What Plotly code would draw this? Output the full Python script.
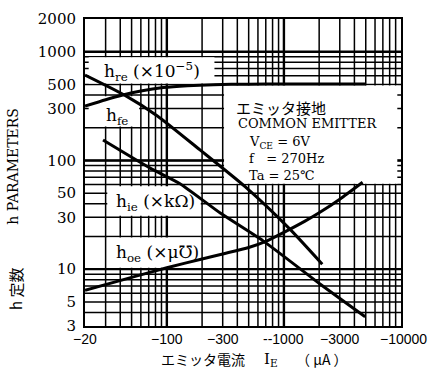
import math
import plotly.graph_objects as go

# ---- data (|I_E| in uA, parameter values) ----
ie_hre = [20, 30, 42, 60, 93, 150, 250, 500, 1000, 2000, 5000]
hre = [316, 362, 400, 435, 468, 487, 498, 503, 505, 505, 505]

ie_hfe = [20, 44, 82.5, 192, 466, 1130, 2126]
hfe = [611, 397, 258, 125, 57.4, 23.2, 11.1]

ie_hie = [28.5, 72, 129.5, 284, 664, 2020, 4945]
hie = [154, 85, 61.1, 33.0, 18.2, 7.35, 3.65]

ie_hoe = [20, 50, 100, 200, 300, 500, 700, 1000, 1500, 2000, 3000, 4700]
hoe = [6.4, 8.4, 10.3, 12.4, 13.8, 15.8, 18.0, 21.8, 27.5, 33.0, 44.0, 63.0]

x_ticks = [20, 100, 300, 1000, 3000, 10000]
x_ticktext = ["−20", "−100", "−300", "--1000", "−3000", "−10000"]
y_ticks = [3, 5, 10, 30, 50, 100, 300, 500, 1000, 2000]
y_ticktext = [str(v) for v in y_ticks]

x_grid = [m * d for d in (10, 100, 1000) for m in range(1, 10) if 20 < m * d < 10000]
y_grid = [m * d for d in (1, 10, 100, 1000) for m in range(1, 10) if 3 < m * d < 2000]
x_major_lines = [100, 1000]
y_major_lines = [10, 100, 1000]

X_MIN, X_MAX = 20, 10000
Y_MIN, Y_MAX = 3, 2000

SERIF = "DejaVu Serif"
CJK = "Noto Sans CJK JP"

fig = go.Figure()
for xs, ys in [(ie_hre, hre), (ie_hfe, hfe), (ie_hie, hie), (ie_hoe, hoe)]:
    fig.add_trace(go.Scatter(x=xs, y=ys, mode="lines",
                             line=dict(color="black", width=3, shape="spline", smoothing=0.6),
                             showlegend=False, hoverinfo="skip"))

shapes = []
for v in x_grid:
    shapes.append(dict(type="line", xref="x", yref="paper", x0=v, x1=v, y0=0, y1=1,
                       line=dict(color="black", width=1.5), layer="between"))
for v in y_grid:
    shapes.append(dict(type="line", xref="paper", yref="y", x0=0, x1=1, y0=v, y1=v,
                       line=dict(color="black", width=1.5), layer="between"))
for v in x_major_lines:
    shapes.append(dict(type="line", xref="x", yref="paper", x0=v, x1=v, y0=0, y1=1,
                       line=dict(color="black", width=2.4), layer="between"))
for v in y_major_lines:
    shapes.append(dict(type="line", xref="paper", yref="y", x0=0, x1=1, y0=v, y1=v,
                       line=dict(color="black", width=2.4), layer="between"))
# white label boxes (areas where the printed grid is absent)
masks = [
    (21.5, 255, 510, 890),     # h_re label
    (21.5, 58, 205, 390),      # h_fe label
    (31, 195, 31, 58),         # h_ie label
    (31, 195, 10.3, 19.5),     # h_oe label
    (308, 9300, 61, 490),      # conditions box
]
for x0, x1, y0, y1 in masks:
    shapes.append(dict(type="rect", xref="x", yref="y", x0=x0, x1=x1, y0=y0, y1=y1,
                       fillcolor="white", line=dict(width=0), layer="between"))


def px(xp):
    return (xp - 85) / 316.0


def py(yp):
    return (326 - yp) / 316.0


ann = []
def txt(t, xp, yp, size=15, font=SERIF, anchor="left", angle=0):
    ann.append(dict(text=t, xref="paper", yref="paper", x=px(xp), y=py(yp),
                    xanchor=anchor, yanchor="middle", showarrow=False, textangle=angle,
                    font=dict(family=font, size=size, color="black")))

txt("h<sub>re</sub> (×10<sup>−5</sup>)", 102, 64, 17)
txt("h<sub>fe</sub>", 104, 110, 17)
txt("h<sub>ie</sub> (×kΩ)", 114, 199, 17)
txt("h<sub>oe</sub> (×μ℧)", 114, 251, 17)

txt("エミッタ接地", 234, 101, 15, CJK)
txt("COMMON EMITTER", 236, 118, 13)
txt("V<sub>CE</sub> = 6V", 247, 137, 13)
txt("f   = 270Hz", 247, 154, 13)
txt("Ta = 25℃", 247, 171, 13)

txt("h PARAMETERS", 13, 162, 14, SERIF, "center", -90)
txt("h 定数", 15, 288, 15, CJK, "center", -90)
txt("エミッタ電流", 159, 360, 14, CJK, "left")
txt("I<sub>E</sub>", 262, 360, 15, SERIF, "left")
txt("（ μA ）", 294, 360, 14, CJK, "left")

# x tick labels placed at the axis values (paper fraction of the log axis)
lx0, lx1 = math.log10(X_MIN), math.log10(X_MAX)
for i, (v, t) in enumerate(zip(x_ticks, x_ticktext)):
    frac = (math.log10(v) - lx0) / (lx1 - lx0)
    last = i == len(x_ticks) - 1
    ann.append(dict(text=t, xref="paper", yref="paper",
                    x=px(429) if last else frac, y=py(339),
                    xanchor="right" if last else "center", yanchor="middle", showarrow=False,
                    font=dict(family="Liberation Sans", size=14, color="black")))

fig.update_layout(
    width=431, height=377,
    margin=dict(l=85, r=30, t=10, b=51),
    paper_bgcolor="white", plot_bgcolor="white",
    shapes=shapes, annotations=ann, showlegend=False,
    xaxis=dict(type="log", range=[lx0, lx1], showticklabels=False, showgrid=False,
               showline=True, linecolor="black", linewidth=2, mirror=True, ticks="",
               zeroline=False),
    yaxis=dict(type="log", range=[math.log10(Y_MIN), math.log10(Y_MAX)], tickmode="array",
               tickvals=y_ticks, ticktext=y_ticktext, showgrid=False,
               showline=True, linecolor="black", linewidth=2, mirror=True, ticks="",
               zeroline=False, ticklabelstandoff=4,
               tickfont=dict(family=SERIF, size=15, color="black")),
)

fig.write_html("out.html", config={"displayModeBar": False},
               post_script="document.body.style.margin='0';document.body.style.overflow='hidden';")
